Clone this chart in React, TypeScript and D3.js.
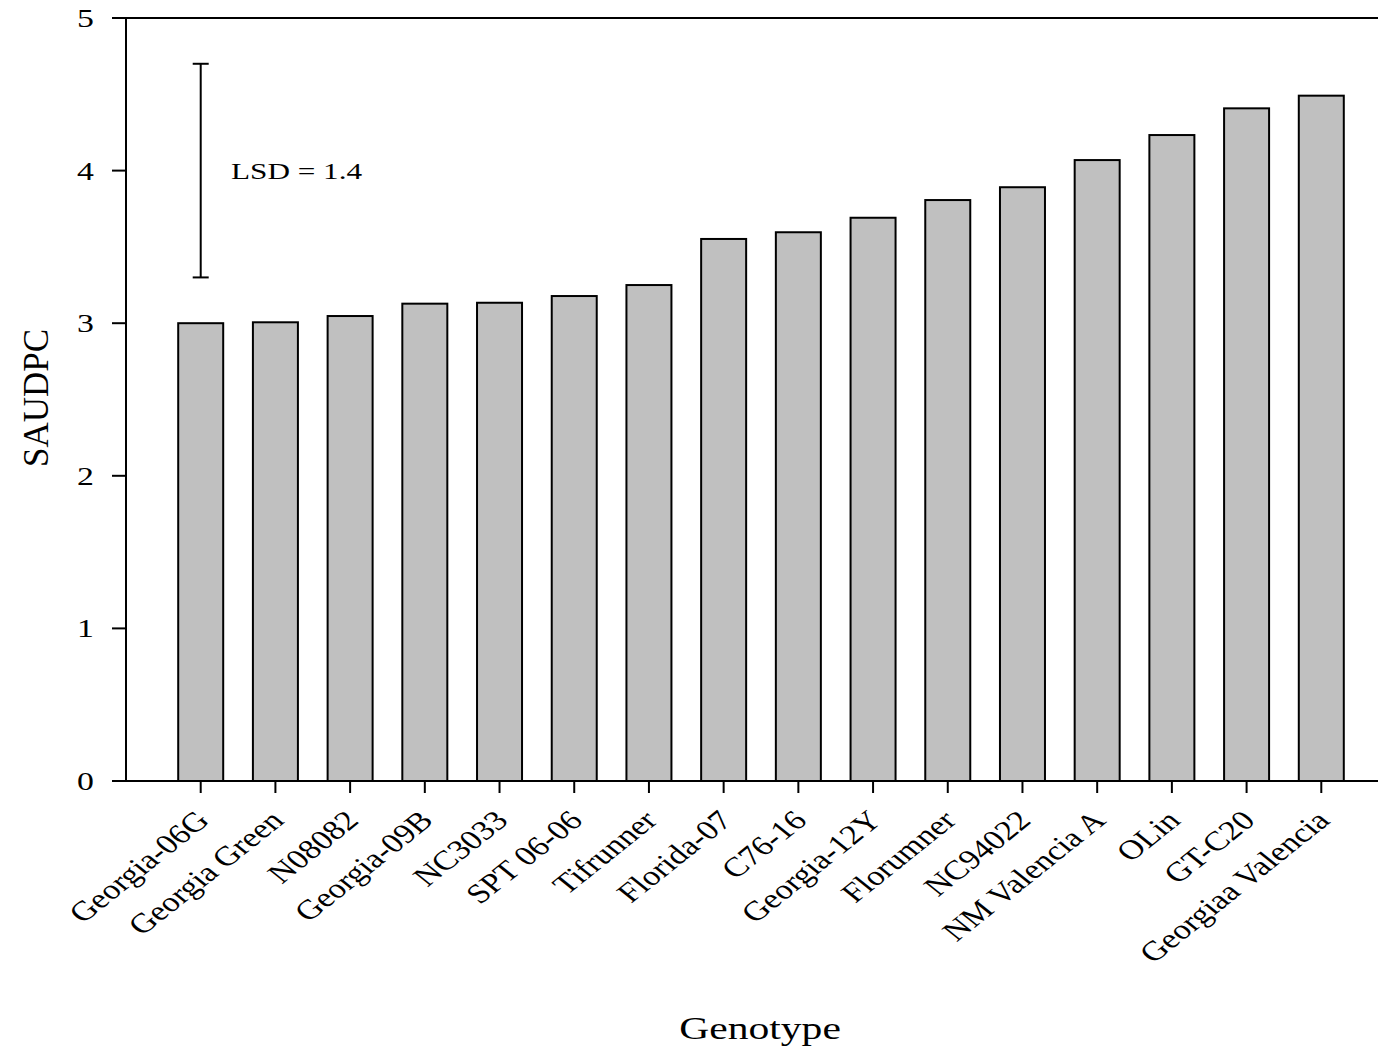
import React, { useEffect, useRef } from "react";
import * as d3 from "d3";

// Genotypes, ordered by mean SAUDPC
const genotypes: string[] = [
  "Georgia-06G",
  "Georgia Green",
  "N08082",
  "Georgia-09B",
  "NC3033",
  "SPT 06-06",
  "Tifrunner",
  "Florida-07",
  "C76-16",
  "Georgia-12Y",
  "Florumner",
  "NC94022",
  "NM Valencia A",
  "OLin",
  "GT-C20",
  "Georgiaa Valencia",
];

const saudpc: number[] = [
  3.0, 3.006, 3.047, 3.128, 3.134, 3.178, 3.25, 3.552, 3.596, 3.691, 3.807,
  3.891, 4.069, 4.233, 4.408, 4.491,
];

const yTicks: number[] = [0, 1, 2, 3, 4, 5];

// Least significant difference bar
const lsdValue = 1.4;
const lsdCenter = 4.0;
const lsdLabel = "LSD = 1.4";

const W = 1378;
const H = 1053;
const FONT = "'Liberation Serif', 'Times New Roman', serif";
const SX = 1.3; // horizontal text stretch

export default function App() {
  const ref = useRef<SVGSVGElement | null>(null);

  useEffect(() => {
    document.body.style.margin = "0";
    const svg = d3.select(ref.current);
    svg.selectAll("*").remove();

    const left = 126;
    const right = 1396;
    const top = 18;
    const bottom = 781;

    const x = d3.scalePoint<string>().domain(genotypes).range([left, right]).padding(1);
    const y = d3.scaleLinear().domain([0, 5]).range([bottom, top]);
    const barW = 45;

    const g = svg.append("g");

    // bars
    g.selectAll("rect.bar")
      .data(genotypes)
      .enter()
      .append("rect")
      .attr("class", "bar")
      .attr("x", (d) => (x(d) as number) - barW / 2)
      .attr("y", (_d, i) => y(saudpc[i]))
      .attr("width", barW)
      .attr("height", (_d, i) => y(0) - y(saudpc[i]))
      .attr("fill", "#c0c0c0")
      .attr("stroke", "#000")
      .attr("stroke-width", 2);

    // frame: left axis, top line, bottom axis
    g.append("line")
      .attr("x1", left).attr("x2", left)
      .attr("y1", top).attr("y2", bottom)
      .attr("stroke", "#000").attr("stroke-width", 2);
    g.append("line")
      .attr("x1", left - 1).attr("x2", W)
      .attr("y1", top).attr("y2", top)
      .attr("stroke", "#000").attr("stroke-width", 2);
    g.append("line")
      .attr("x1", left).attr("x2", W)
      .attr("y1", bottom).attr("y2", bottom)
      .attr("stroke", "#000").attr("stroke-width", 2);

    // y ticks and labels
    yTicks.forEach((t) => {
      g.append("line")
        .attr("x1", left - 14).attr("x2", left)
        .attr("y1", y(t)).attr("y2", y(t))
        .attr("stroke", "#000").attr("stroke-width", 2);
      g.append("text")
        .attr("transform", `translate(${left - 32},${y(t) + 9}) scale(${SX},1)`)
        .attr("text-anchor", "end")
        .attr("font-family", FONT)
        .attr("font-size", 26)
        .attr("fill", "#000")
        .text(String(t));
    });

    // x ticks and rotated labels
    genotypes.forEach((d) => {
      const cx = x(d) as number;
      g.append("line")
        .attr("x1", cx).attr("x2", cx)
        .attr("y1", bottom).attr("y2", bottom + 12)
        .attr("stroke", "#000").attr("stroke-width", 2);
      g.append("text")
        .attr("transform", `translate(${cx + 10},${bottom + 41}) scale(1.25,1) rotate(-45)`)
        .attr("text-anchor", "end")
        .attr("font-family", FONT)
        .attr("font-size", 27.5)
        .attr("fill", "#000")
        .text(d);
    });

    // LSD bar
    const lx = x(genotypes[0]) as number;
    const y1 = y(lsdCenter + lsdValue / 2);
    const y2 = y(lsdCenter - lsdValue / 2);
    g.append("line")
      .attr("x1", lx).attr("x2", lx).attr("y1", y1).attr("y2", y2)
      .attr("stroke", "#000").attr("stroke-width", 2);
    [y1, y2].forEach((yy) => {
      g.append("line")
        .attr("x1", lx - 8).attr("x2", lx + 8).attr("y1", yy).attr("y2", yy)
        .attr("stroke", "#000").attr("stroke-width", 2);
    });
    g.append("text")
      .attr("transform", `translate(231,179) scale(${SX},1)`)
      .attr("font-family", FONT)
      .attr("font-size", 24)
      .attr("fill", "#000")
      .text(lsdLabel);

    // axis titles
    g.append("text")
      .attr("transform", `translate(48,398) rotate(-90)`)
      .attr("text-anchor", "middle")
      .attr("font-family", FONT)
      .attr("font-size", 35)
      .attr("fill", "#000")
      .text("SAUDPC");
    g.append("text")
      .attr("transform", `translate(760,1039) scale(${SX},1)`)
      .attr("text-anchor", "middle")
      .attr("font-family", FONT)
      .attr("font-size", 32)
      .attr("fill", "#000")
      .text("Genotype");
  }, []);

  return (
    <svg
      ref={ref}
      width={W}
      height={H}
      style={{ display: "block", position: "absolute", left: 0, top: 0, background: "#fff" }}
    />
  );
}
